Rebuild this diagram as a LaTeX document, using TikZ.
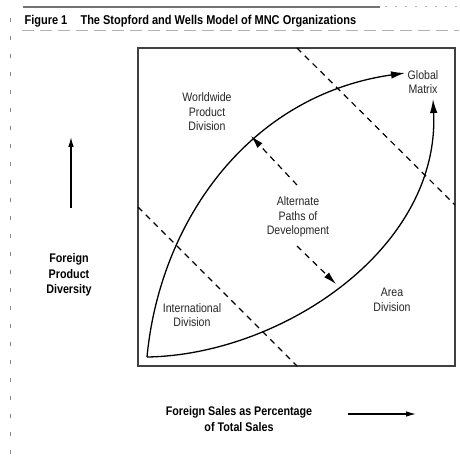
\documentclass[tikz,border=0pt]{standalone}
\usepackage{fontspec}
\setmainfont{Liberation Sans}
\newfontfamily\condfont[FakeStretch=0.86]{Liberation Sans}
\usetikzlibrary{arrows.meta}
\tikzset{
  curve/.style={line width=1.3pt, -{Latex[length=14pt,width=7.5pt]}},
  dline/.style={line width=1.2pt, dash pattern=on 6pt off 5pt},
  darrow/.style={dline, -{Latex[length=13pt,width=7pt]}},
  lbl/.style={font=\condfont\fontsize{12.3}{14.5}\selectfont, align=center, text=black!85},
  blbl/.style={font=\condfont\bfseries\fontsize{12.5}{15.5}\selectfont, align=center},
  axis/.style={line width=1.1pt, -{Latex[length=10pt,width=5.5pt]}}
}
\begin{document}
\begin{tikzpicture}[x=1pt,y=-1pt]
\useasboundingbox (0,0) rectangle (459,462);
\fill[white] (0,0) rectangle (459,462);
% top rules and margin
\draw[line width=1.8pt, black!55] (23,7) -- (380,7);
\draw[line width=1pt, black!30, dash pattern=on 2pt off 8pt] (385,7) -- (459,7);
\draw[line width=0.8pt, black!30, dash pattern=on 12pt off 6pt] (22,30) -- (459,30);
\draw[line width=0.8pt, black!45, dash pattern=on 4pt off 14pt] (10,18) -- (10,462);
% title
\node[anchor=base west, font=\condfont\bfseries\fontsize{12.8}{14}\selectfont] (fig) at (21,25) {Figure 1};
\node[anchor=base west, font=\condfont\bfseries\fontsize{12.8}{14}\selectfont] (title) at (77,25) {The Stopford and Wells Model of MNC Organizations};
% frame
\draw[line width=1.1pt, black!75] (138,48) rectangle (455,366);
% dashed boundaries
\coordinate (d1a) at (297,48);
\coordinate (d1b) at (455,205);
\coordinate (d2a) at (138,207);
\coordinate (d2b) at (297,366);
\draw[dline] (d1a) -- (d1b);
\draw[dline] (d2a) -- (d2b);
% lemon curves
\coordinate (o) at (147,357);
\coordinate (gm1) at (405,73);
\coordinate (gm2) at (433,99);
\draw[curve] (o) .. controls (160,220) and (250,95) .. (gm1);
\draw[curve] (o) .. controls (280,355) and (440,250) .. (gm2);
% alternate paths arrows
\coordinate (a1s) at (297,185);
\coordinate (a1e) at (251,136);
\coordinate (a2s) at (297,246);
\coordinate (a2e) at (336,284);
\draw[darrow] (a1s) -- (a1e);
\draw[darrow] (a2s) -- (a2e);
% labels
\node[lbl] (ww) at (207,112) {Worldwide\\Product\\Division};
\node[lbl] (gm) at (423,82) {Global\\Matrix};
\node[lbl] (alt) at (298,217) {Alternate\\Paths of\\Development};
\node[lbl] (int) at (192,315) {International\\Division};
\node[lbl] (area) at (392,300) {Area\\Division};
% axis labels
\node[blbl] (fpd) at (69,275) {Foreign\\Product\\Diversity};
\coordinate (upa) at (71,208);
\coordinate (upb) at (71,137);
\draw[axis] (upa) -- (upb);
\node[blbl] (fs) at (239,419) {Foreign Sales as Percentage\\of Total Sales};
\coordinate (ra) at (348,414);
\coordinate (rb) at (416,414);
\draw[axis] (ra) -- (rb);
\end{tikzpicture}
\end{document}
